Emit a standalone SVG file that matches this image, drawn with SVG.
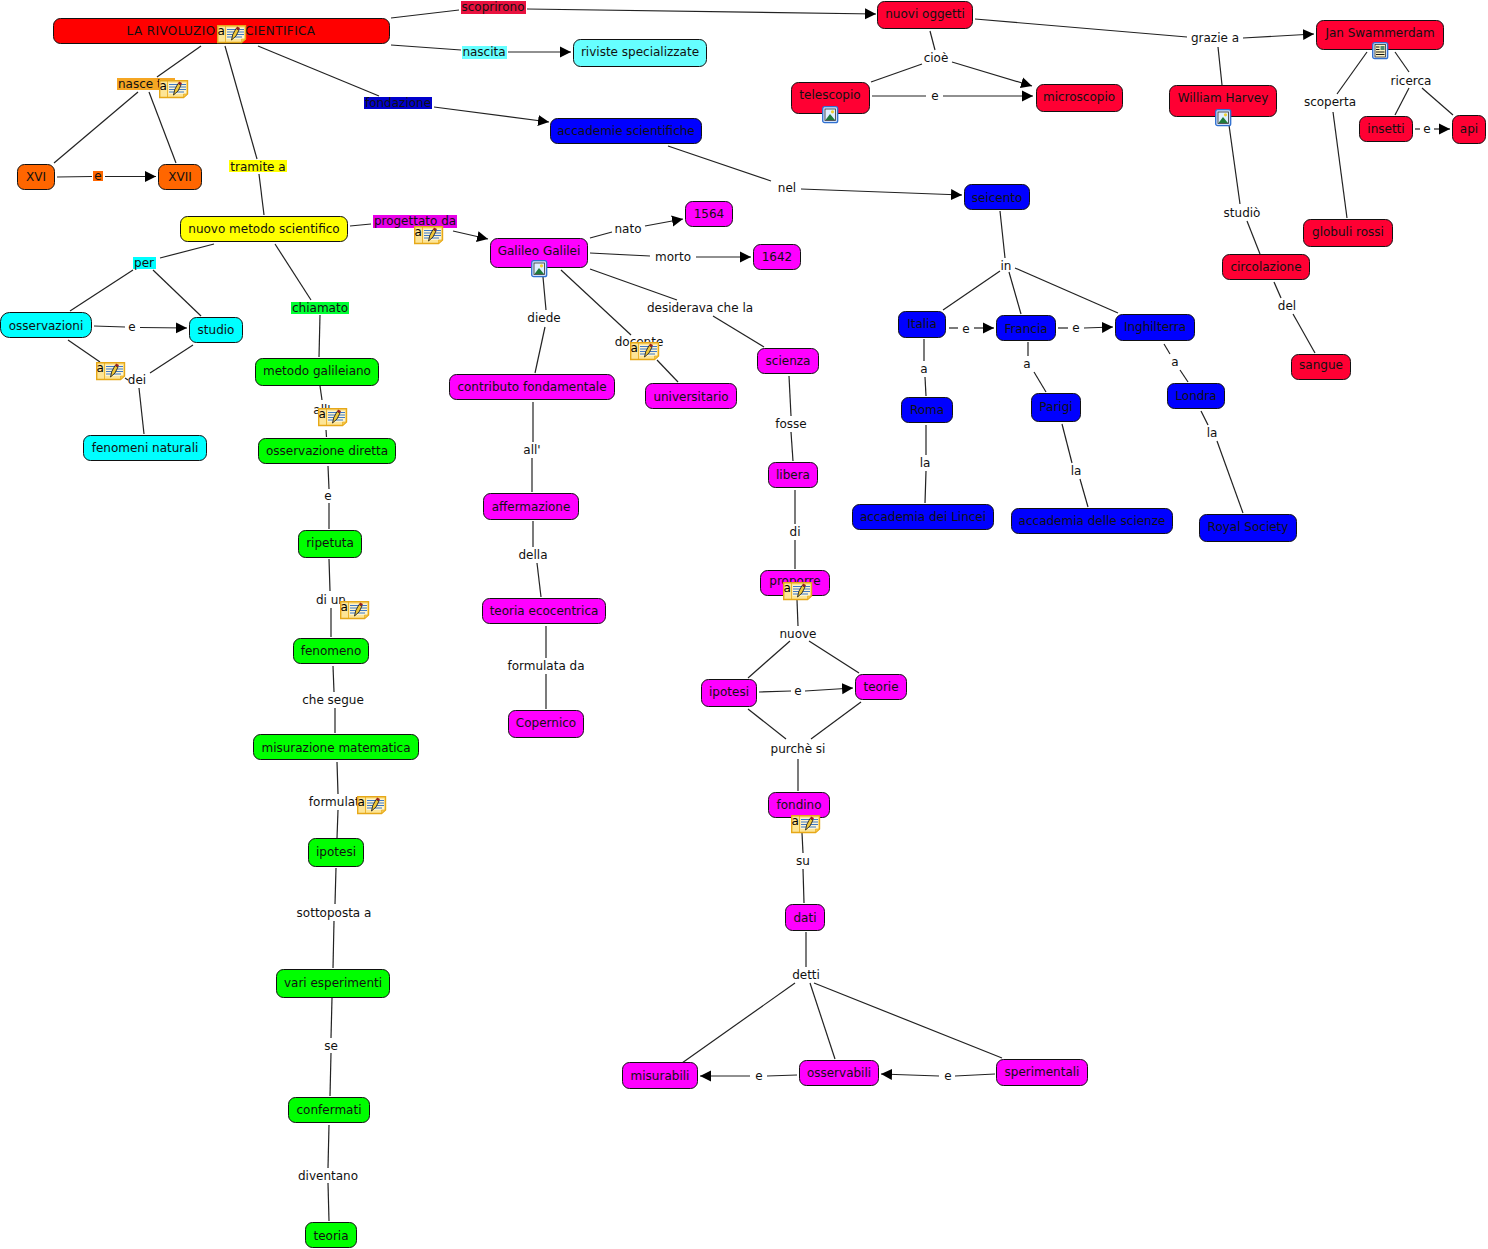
<svg xmlns="http://www.w3.org/2000/svg" width="1488" height="1249" viewBox="0 0 1488 1249">
<style>
text{font-family:"DejaVu Sans",Verdana,sans-serif;font-size:12px;fill:#111;text-anchor:middle}
.n rect{stroke:#111;stroke-width:1;}
.red rect{fill:#ff0000}.cr rect{fill:#ff0033}.cy rect{fill:#00ffff}.lc rect{fill:#66ffff}.bl rect{fill:#0000ff}.or rect{fill:#ff6600}.ye rect{fill:#ffff00}.ma rect{fill:#ff00ff}.gr rect{fill:#00ff00}
.c line{stroke:#222;stroke-width:1.2;fill:none}
.a{marker-end:url(#ah)}
.iconA{font-size:12px;fill:#000}
</style>
<defs>
<marker id="ah" markerUnits="userSpaceOnUse" markerWidth="12" markerHeight="12" refX="11" refY="6" orient="auto"><path d="M0,0.5 L11,6 L0,11.5 Z" fill="#000"/></marker>
<g id="note">
<path d="M0.7,0.7H28.5V14L24.5,17.5H0.7Z" fill="#fde596" stroke="#e6a818" stroke-width="1.4"/>
<path d="M8.5,1V17" stroke="#e6a818" stroke-width="0.8"/>
<rect x="9.500" y="3" width="17.500" height="11" fill="#fdf4d0"/>
<path d="M24.5,17.5V14H28.5Z" fill="#f5c84a" stroke="#e6a818" stroke-width="0.6"/>
<path d="M10,4.500H27M10,7H27M10,9.500H27M10,12H25" stroke="#3f78c4" stroke-width="1.2"/>
<path d="M14.500,15L15.800,9.500L19,3.500L22,5L19,11Z" fill="#f0c838" stroke="#222" stroke-width="0.9"/>
<path d="M19,3.500L20,1.500L23,3L22,5Z" fill="#9a1f1f"/>
<text class="iconA" x="4.300" y="9.500">a</text>
</g>
<g id="pic">
<rect x="0.700" y="0.700" width="15" height="16" rx="2" fill="#cfe0fa" stroke="#2f6fd0" stroke-width="1.3"/>
<rect x="3" y="3" width="10.500" height="11.500" fill="#dfefff" stroke="#333" stroke-width="0.8"/>
<path d="M3.500,14L8,8L13,14Z" fill="#1f7a3c"/>
<circle cx="10.500" cy="5.800" r="1.600" fill="#f0d030"/>
</g>
<g id="doc">
<rect x="0.700" y="0.700" width="15" height="16" rx="2" fill="#cfe0fa" stroke="#2f6fd0" stroke-width="1.3"/>
<rect x="3" y="2.500" width="10.500" height="12.500" fill="#fdf3c4" stroke="#333" stroke-width="0.8"/>
<path d="M4,5H7.500M4,7.500H7.500M4,10H12.500M4,12.500H12.500" stroke="#111" stroke-width="1"/>
<rect x="8.500" y="4" width="4" height="4" fill="#4d8a70"/>
</g>
</defs>
<rect width="1488" height="1249" fill="#fff"/>

<g id="connectors" class="c">
<line x1="391" y1="18" x2="459" y2="10"/><line class="a" x1="527" y1="9" x2="876" y2="14"/>
<line x1="391" y1="45" x2="461" y2="50"/><line class="a" x1="508" y1="52" x2="571" y2="52"/>
<line x1="258" y1="46" x2="379" y2="96"/><line class="a" x1="434" y1="107" x2="549" y2="122"/>
<line x1="201" y1="46" x2="157" y2="77"/><line x1="138" y1="92" x2="54" y2="163"/><line x1="149" y1="92" x2="176" y2="163"/>
<line x1="57" y1="177" x2="92" y2="176.500"/><line class="a" x1="105" y1="176.500" x2="156" y2="176.500"/>
<line x1="225" y1="46" x2="257" y2="159"/><line x1="259" y1="174" x2="264" y2="215"/>
<line x1="350" y1="226" x2="371" y2="224"/><line class="a" x1="453" y1="231" x2="488" y2="239"/>
<line x1="214" y1="244" x2="160" y2="258"/><line x1="133" y1="270" x2="70" y2="311"/><line x1="153" y1="270" x2="201" y2="316"/>
<line x1="275" y1="244" x2="311" y2="300"/><line x1="320" y1="315" x2="319" y2="357"/>
<line x1="94" y1="326" x2="125" y2="327"/><line class="a" x1="140" y1="327.500" x2="187" y2="328"/>
<line x1="68" y1="340" x2="100" y2="362"/><line x1="193" y1="345" x2="150" y2="373"/><line x1="139" y1="388" x2="144" y2="434"/><line x1="125" y1="378" x2="128" y2="380"/>
<line x1="320" y1="386" x2="322" y2="400"/><line x1="326" y1="430" x2="326.500" y2="437"/>
<line x1="328" y1="466" x2="329" y2="489"/><line x1="329" y1="503" x2="329" y2="529"/>
<line x1="329" y1="559" x2="330" y2="591"/><line x1="331" y1="608" x2="331" y2="637"/>
<line x1="333" y1="666" x2="334" y2="692"/><line x1="335" y1="708" x2="335" y2="733"/>
<line x1="337" y1="762" x2="338" y2="794"/><line x1="338" y1="810" x2="337" y2="838"/>
<line x1="336" y1="868" x2="335" y2="904"/><line x1="334" y1="921" x2="333" y2="968"/>
<line x1="332" y1="998" x2="331" y2="1038"/><line x1="331" y1="1053" x2="330" y2="1096"/>
<line x1="329" y1="1125" x2="328" y2="1168"/><line x1="328" y1="1183" x2="329" y2="1221"/>
<line x1="543" y1="277" x2="546" y2="310"/><line x1="545" y1="327" x2="535" y2="373"/>
<line x1="561" y1="270" x2="631" y2="335"/><line x1="657" y1="360" x2="678" y2="382"/>
<line x1="590" y1="269" x2="677" y2="300"/><line x1="713" y1="316" x2="764" y2="347"/>
<line x1="590" y1="238" x2="612" y2="232"/><line class="a" x1="645" y1="226" x2="683" y2="219"/>
<line x1="590" y1="253" x2="650" y2="256"/><line class="a" x1="696" y1="257" x2="751" y2="257"/>
<line x1="533" y1="402" x2="533" y2="442"/><line x1="532" y1="458" x2="532" y2="492"/>
<line x1="533" y1="521" x2="533" y2="547"/><line x1="537" y1="563" x2="541" y2="597"/>
<line x1="546" y1="626" x2="546" y2="658"/><line x1="546" y1="674" x2="546" y2="709"/>
<line x1="789" y1="376" x2="791" y2="416"/><line x1="791" y1="432" x2="793" y2="461"/>
<line x1="795" y1="490" x2="795" y2="524"/><line x1="795" y1="540" x2="795" y2="569"/>
<line x1="797" y1="600" x2="798" y2="626"/><line x1="790" y1="641" x2="748" y2="678"/><line x1="809" y1="641" x2="859" y2="673"/>
<line x1="759" y1="692" x2="791" y2="691"/><line class="a" x1="805" y1="691" x2="853" y2="688"/>
<line x1="748" y1="709" x2="786" y2="739"/><line x1="861" y1="702" x2="811" y2="739"/><line x1="798" y1="759" x2="798" y2="791"/>
<line x1="802" y1="833" x2="803" y2="853"/><line x1="803" y1="869" x2="804" y2="903"/>
<line x1="806" y1="932" x2="806" y2="967"/><line x1="795" y1="983" x2="682" y2="1063"/><line x1="810" y1="983" x2="835" y2="1059"/><line x1="814" y1="983" x2="1002" y2="1058"/>
<line x1="797" y1="1075" x2="767" y2="1076"/><line class="a" x1="750" y1="1076" x2="700" y2="1076"/>
<line x1="995" y1="1074" x2="955" y2="1076"/><line class="a" x1="939" y1="1076" x2="881" y2="1074"/>
<line x1="930" y1="31" x2="935" y2="50"/><line x1="922" y1="64" x2="871" y2="82"/><line class="a" x1="952" y1="62" x2="1032" y2="86"/>
<line x1="872" y1="96" x2="926" y2="96"/><line class="a" x1="943" y1="96" x2="1033" y2="96"/>
<line x1="975" y1="19" x2="1187" y2="37"/><line class="a" x1="1243" y1="38" x2="1314" y2="34"/>
<line x1="1218" y1="47" x2="1222" y2="85"/>
<line x1="1229" y1="125" x2="1240" y2="204"/><line x1="1247" y1="221" x2="1260" y2="254"/>
<line x1="1274" y1="282" x2="1281" y2="298"/><line x1="1293" y1="314" x2="1315" y2="353"/>
<line x1="1367" y1="52" x2="1337" y2="94"/><line x1="1333" y1="112" x2="1347" y2="218"/>
<line x1="1395" y1="52" x2="1409" y2="72"/><line x1="1409" y1="88" x2="1395" y2="115"/><line x1="1422" y1="88" x2="1453" y2="115"/>
<line x1="1415" y1="129" x2="1420" y2="129"/><line class="a" x1="1434" y1="129" x2="1450" y2="129"/>
<line x1="668" y1="146" x2="771" y2="181"/><line class="a" x1="801" y1="189" x2="962" y2="195"/>
<line x1="1000" y1="211" x2="1005" y2="258"/><line x1="1000" y1="271" x2="943" y2="310"/><line x1="1009" y1="272" x2="1021" y2="314"/><line x1="1015" y1="268" x2="1118" y2="313"/>
<line x1="949" y1="328" x2="958" y2="328"/><line class="a" x1="974" y1="328" x2="994" y2="328"/>
<line x1="1058" y1="328" x2="1068" y2="328"/><line class="a" x1="1084" y1="328" x2="1113" y2="327"/>
<line x1="924" y1="339" x2="924" y2="361"/><line x1="925" y1="377" x2="926" y2="396"/>
<line x1="926" y1="425" x2="926" y2="455"/><line x1="926" y1="471" x2="925" y2="503"/>
<line x1="1028" y1="342" x2="1028" y2="356"/><line x1="1034" y1="372" x2="1046" y2="392"/>
<line x1="1062" y1="424" x2="1072" y2="463"/><line x1="1080" y1="479" x2="1088" y2="507"/>
<line x1="1164" y1="344" x2="1170" y2="354"/><line x1="1180" y1="370" x2="1188" y2="382"/>
<line x1="1201" y1="411" x2="1208" y2="425"/><line x1="1217" y1="441" x2="1243" y2="513"/>
</g>

<g id="linking-phrases">
<g><rect x="461" y="1" width="65" height="13" fill="#e8123f"/><text x="493" y="11">scoprirono</text></g>
<g><rect x="462" y="46" width="45" height="13" fill="#66ffff"/><text x="484" y="56">nascita</text></g>
<g><rect x="364" y="97" width="68" height="12" fill="#0000cc"/><text x="398" y="107">fondazione</text></g>
<g><rect x="117" y="78" width="58" height="12" fill="#f5a623"/><text x="146" y="88">nasce tra</text></g>
<g><rect x="93" y="171" width="10" height="10" fill="#ff6600"/><text x="98" y="180">e</text></g>
<g><rect x="229" y="160" width="58" height="12" fill="#ffff00"/><text x="258" y="171">tramite a</text></g>
<g><rect x="373" y="215" width="84" height="13" fill="#e800e8"/><text x="415" y="225">progettato da</text></g>
<g><rect x="133" y="257" width="23" height="12" fill="#00ffff"/><text x="144" y="267">per</text></g>
<g><rect x="291" y="302" width="58" height="12" fill="#00ff33"/><text x="320" y="312">chiamato</text></g>
<text x="132" y="331">e</text>
<text x="137" y="384">dei</text>
<text x="322" y="414">all'</text>
<text x="328" y="500">e</text>
<text x="331" y="604">di un</text>
<text x="333" y="704">che segue</text>
<text x="338" y="806">formulata</text>
<text x="334" y="917">sottoposta a</text>
<text x="331" y="1050">se</text>
<text x="328" y="1180">diventano</text>
<text x="544" y="322">diede</text>
<text x="639" y="346">docente</text>
<text x="700" y="312">desiderava che la</text>
<text x="628" y="233">nato</text>
<text x="673" y="261">morto</text>
<text x="532" y="454">all'</text>
<text x="533" y="559">della</text>
<text x="546" y="670">formulata da</text>
<text x="791" y="428">fosse</text>
<text x="795" y="536">di</text>
<text x="798" y="638">nuove</text>
<text x="798" y="695">e</text>
<text x="798" y="753">purchè si</text>
<text x="803" y="865">su</text>
<text x="806" y="979">detti</text>
<text x="759" y="1080">e</text>
<text x="948" y="1080">e</text>
<text x="936" y="62">cioè</text>
<text x="935" y="100">e</text>
<text x="1215" y="42">grazie a</text>
<text x="1242" y="217">studiò</text>
<text x="1287" y="310">del</text>
<text x="1330" y="106">scoperta</text>
<text x="1411" y="85">ricerca</text>
<text x="1427" y="133">e</text>
<text x="787" y="192">nel</text>
<text x="1006" y="270">in</text>
<text x="966" y="333">e</text>
<text x="1076" y="332">e</text>
<text x="924" y="373">a</text>
<text x="1027" y="368">a</text>
<text x="1175" y="366">a</text>
<text x="925" y="467">la</text>
<text x="1076" y="475">la</text>
<text x="1212" y="437">la</text>
</g>

<g id="n1" class="n red"><rect x="53.500" y="18.500" width="336" height="25" rx="7"/><text x="221" y="35" letter-spacing="0.4">LA RIVOLUZIONE SCIENTIFICA</text></g>
<g id="n2" class="n cr"><rect x="877.500" y="1.500" width="95" height="27" rx="7"/><text x="925" y="18">nuovi oggetti</text></g>
<g id="n3" class="n lc"><rect x="573.500" y="39.500" width="133" height="27" rx="7"/><text x="640" y="56">riviste specializzate</text></g>
<g id="n4" class="n cr"><rect x="1316.500" y="20.500" width="127" height="29" rx="7"/><text x="1380" y="37">Jan Swammerdam</text></g>
<g id="n5" class="n cr"><rect x="791.500" y="82.500" width="78" height="31" rx="7"/><text x="830" y="99">telescopio</text></g>
<g id="n6" class="n cr"><rect x="1036.500" y="84.500" width="86" height="27" rx="7"/><text x="1079" y="101">microscopio</text></g>
<g id="n7" class="n cr"><rect x="1169.500" y="85.500" width="107" height="31" rx="7"/><text x="1223" y="102">William Harvey</text></g>
<g id="n8" class="n cr"><rect x="1359.500" y="116.500" width="53" height="25" rx="7"/><text x="1386" y="133">insetti</text></g>
<g id="n9" class="n cr"><rect x="1452.500" y="115.500" width="33" height="28" rx="7"/><text x="1469" y="133">api</text></g>
<g id="n10" class="n bl"><rect x="550.500" y="118.500" width="151" height="25" rx="7"/><text x="626" y="135">accademie scientifiche</text></g>
<g id="n11" class="n or"><rect x="17.500" y="164.500" width="37" height="25" rx="7"/><text x="36" y="181">XVI</text></g>
<g id="n12" class="n or"><rect x="158.500" y="164.500" width="43" height="25" rx="7"/><text x="180" y="181">XVII</text></g>
<g id="n13" class="n ye"><rect x="180.500" y="216.500" width="167" height="25" rx="7"/><text x="264" y="233">nuovo metodo scientifico</text></g>
<g id="n14" class="n ma"><rect x="685.500" y="201.500" width="47" height="25" rx="7"/><text x="709" y="218">1564</text></g>
<g id="n15" class="n ma"><rect x="753.500" y="244.500" width="47" height="25" rx="7"/><text x="777" y="261">1642</text></g>
<g id="n16" class="n bl"><rect x="964.500" y="184.500" width="65" height="25" rx="7"/><text x="997" y="202">seicento</text></g>
<g id="n17" class="n ma"><rect x="490.500" y="238.500" width="97" height="29" rx="7"/><text x="539" y="255">Galileo Galilei</text></g>
<g id="n18" class="n cr"><rect x="1303.500" y="219.500" width="89" height="27" rx="7"/><text x="1348" y="236">globuli rossi</text></g>
<g id="n19" class="n cr"><rect x="1222.500" y="254.500" width="87" height="25" rx="7"/><text x="1266" y="271">circolazione</text></g>
<g id="n20" class="n cy"><rect x="0.500" y="312.500" width="91" height="25" rx="9"/><text x="46" y="330">osservazioni</text></g>
<g id="n21" class="n cy"><rect x="189.500" y="317.500" width="53" height="25" rx="7"/><text x="216" y="334">studio</text></g>
<g id="n22" class="n gr"><rect x="255.500" y="358.500" width="123" height="27" rx="7"/><text x="317" y="375">metodo galileiano</text></g>
<g id="n23" class="n bl"><rect x="898.500" y="311.500" width="47" height="26" rx="7"/><text x="922" y="328">Italia</text></g>
<g id="n24" class="n bl"><rect x="996.500" y="315.500" width="59" height="25" rx="7"/><text x="1026" y="333">Francia</text></g>
<g id="n25" class="n bl"><rect x="1115.500" y="314.500" width="79" height="26" rx="7"/><text x="1155" y="331">Inghilterra</text></g>
<g id="n26" class="n ma"><rect x="757.500" y="348.500" width="61" height="25" rx="7"/><text x="788" y="365">scienza</text></g>
<g id="n27" class="n cr"><rect x="1291.500" y="354.500" width="59" height="25" rx="7"/><text x="1321" y="369">sangue</text></g>
<g id="n28" class="n ma"><rect x="645.500" y="383.500" width="91" height="25" rx="7"/><text x="691" y="401">universitario</text></g>
<g id="n29" class="n ma"><rect x="449.500" y="374.500" width="165" height="25" rx="7"/><text x="532" y="391">contributo fondamentale</text></g>
<g id="n30" class="n bl"><rect x="901.500" y="397.500" width="51" height="25" rx="7"/><text x="927" y="414">Roma</text></g>
<g id="n31" class="n bl"><rect x="1031.500" y="393.500" width="49" height="28" rx="7"/><text x="1056" y="411">Parigi</text></g>
<g id="n32" class="n bl"><rect x="1167.500" y="383.500" width="57" height="25" rx="7"/><text x="1196" y="400">Londra</text></g>
<g id="n33" class="n cy"><rect x="83.500" y="435.500" width="123" height="25" rx="7"/><text x="145" y="452">fenomeni naturali</text></g>
<g id="n34" class="n gr"><rect x="258.500" y="438.500" width="137" height="25" rx="7"/><text x="327" y="455">osservazione diretta</text></g>
<g id="n35" class="n ma"><rect x="768.500" y="462.500" width="49" height="25" rx="7"/><text x="793" y="479">libera</text></g>
<g id="n36" class="n ma"><rect x="483.500" y="493.500" width="95" height="26" rx="7"/><text x="531" y="511">affermazione</text></g>
<g id="n37" class="n bl"><rect x="852.500" y="504.500" width="141" height="25" rx="7"/><text x="923" y="521">accademia dei Lincei</text></g>
<g id="n38" class="n bl"><rect x="1011.500" y="508.500" width="161" height="25" rx="7"/><text x="1092" y="525">accademia delle scienze</text></g>
<g id="n39" class="n bl"><rect x="1199.500" y="514.500" width="97" height="27" rx="7"/><text x="1248" y="531">Royal Society</text></g>
<g id="n40" class="n gr"><rect x="298.500" y="530.500" width="63" height="27" rx="7"/><text x="330" y="547">ripetuta</text></g>
<g id="n41" class="n ma"><rect x="760.500" y="570.500" width="69" height="25" rx="7"/><text x="795" y="585">proporre</text></g>
<g id="n42" class="n ma"><rect x="482.500" y="598.500" width="123" height="25" rx="7"/><text x="544" y="615">teoria ecocentrica</text></g>
<g id="n43" class="n gr"><rect x="293.500" y="638.500" width="75" height="25" rx="7"/><text x="331" y="655">fenomeno</text></g>
<g id="n44" class="n ma"><rect x="701.500" y="679.500" width="55" height="27" rx="7"/><text x="729" y="696">ipotesi</text></g>
<g id="n45" class="n ma"><rect x="855.500" y="674.500" width="51" height="25" rx="7"/><text x="881" y="691">teorie</text></g>
<g id="n46" class="n ma"><rect x="508.500" y="710.500" width="75" height="27" rx="7"/><text x="546" y="727">Copernico</text></g>
<g id="n47" class="n gr"><rect x="253.500" y="734.500" width="165" height="25" rx="7"/><text x="336" y="752">misurazione matematica</text></g>
<g id="n48" class="n ma"><rect x="768.500" y="792.500" width="61" height="25" rx="7"/><text x="799" y="809">fondino</text></g>
<g id="n49" class="n gr"><rect x="308.500" y="838.500" width="55" height="28" rx="7"/><text x="336" y="856">ipotesi</text></g>
<g id="n50" class="n ma"><rect x="785.500" y="904.500" width="39" height="26" rx="7"/><text x="805" y="922">dati</text></g>
<g id="n51" class="n gr"><rect x="276.500" y="969.500" width="113" height="28" rx="7"/><text x="333" y="987">vari esperimenti</text></g>
<g id="n52" class="n ma"><rect x="622.500" y="1062.500" width="75" height="26" rx="7"/><text x="660" y="1080">misurabili</text></g>
<g id="n53" class="n ma"><rect x="799.500" y="1060.500" width="79" height="25" rx="7"/><text x="839" y="1077">osservabili</text></g>
<g id="n54" class="n ma"><rect x="996.500" y="1059.500" width="91" height="26" rx="7"/><text x="1042" y="1076">sperimentali</text></g>
<g id="n55" class="n gr"><rect x="288.500" y="1097.500" width="81" height="25" rx="7"/><text x="329" y="1114">confermati</text></g>
<g id="n56" class="n gr"><rect x="305.500" y="1222.500" width="51" height="25" rx="7"/><text x="331" y="1240">teoria</text></g>

<g id="icons">
<use href="#note" x="217" y="25"/>
<use href="#note" x="159" y="80"/>
<use href="#note" x="414" y="226"/>
<use href="#note" x="96" y="362"/>
<use href="#note" x="318" y="408"/>
<use href="#note" x="630" y="342"/>
<use href="#note" x="783" y="582"/>
<use href="#note" x="340" y="601"/>
<use href="#note" x="357" y="796"/>
<use href="#note" x="791" y="815"/>
<use href="#pic" x="822" y="106"/>
<use href="#pic" x="1215" y="109"/>
<use href="#pic" x="531" y="260"/>
<use href="#doc" x="1372" y="42"/>
</g>
</svg>
